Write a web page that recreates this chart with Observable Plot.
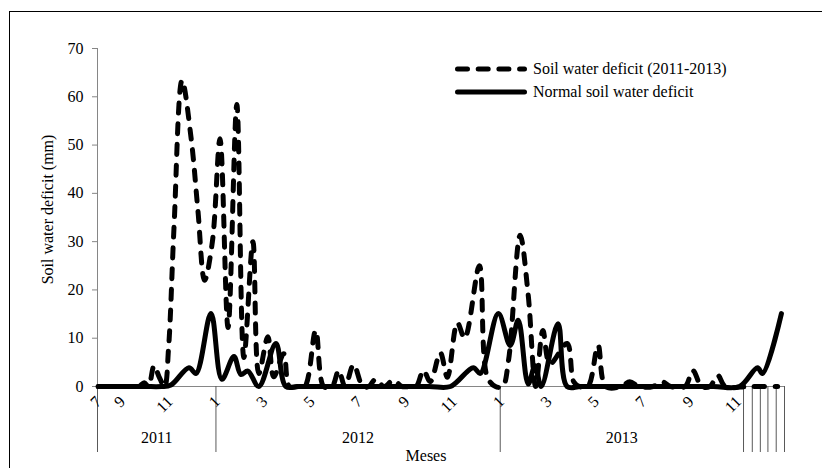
<!DOCTYPE html>
<html>
<head>
<meta charset="utf-8">
<script src="https://cdn.jsdelivr.net/npm/d3@7"></script>
<script src="https://cdn.jsdelivr.net/npm/@observablehq/plot@0.6"></script>
<style>
  html, body { margin: 0; padding: 0; background: #fff; overflow: hidden; }
  #wrap { position: relative; width: 822px; height: 468px; overflow: hidden;
          font-family: "Liberation Serif", "Times New Roman", serif; color: #000; }
  #border { position: absolute; left: 9px; top: 11px; width: 900px; height: 600px;
            border: 1.5px solid #000; box-sizing: border-box; }
  #chart { position: absolute; left: 0; top: 0; }
  #legend { position: absolute; left: 455px; top: 57.5px; font-size: 16px; }
  .row { display: flex; align-items: center; height: 23px; white-space: nowrap; }
  .row svg { margin-right: 6px; }
</style>
</head>
<body>
<div id="wrap">
  <div id="border"></div>
  <div id="chart"></div>
  <div id="legend"></div>
</div>
<script>
// ---- Data (months counted from Jan 2011 = 0; Jan 2012 = 12; Jan 2013 = 24) ----
const deficitMonths = [7.03, 7.5, 8.0, 8.5, 8.75, 8.97, 9.15, 9.39, 9.6, 9.83, 10.0, 10.23, 10.57, 10.95, 11.24, 11.52, 11.85, 12.17, 12.51, 12.88, 13.18, 13.56, 13.81, 14.19, 14.44, 14.86, 15.1, 15.45, 15.75, 16.21, 16.55, 16.9, 17.18, 17.45, 17.81, 18.2, 18.45, 18.74, 19.1, 19.49, 19.85, 20.2, 20.45, 20.76, 21.05, 21.47, 21.77, 22.19, 22.5, 23.12, 23.45, 23.8, 24.1, 24.35, 24.84, 25.18, 25.5, 25.8, 26.1, 26.82, 27.1, 27.35, 27.7, 28.13, 28.45, 29.1, 29.47, 29.85, 30.45, 30.82, 31.2, 31.8, 32.13, 32.5, 32.85, 33.18, 33.5, 34.5, 35.71];
const deficitValues = [0, 0, 0, 0, 0, 0.8, 0, 4.3, 2, 0, 8, 33, 63.4, 51.5, 36.4, 22, 30, 51.3, 12.2, 58.4, 6, 30, 2.7, 10.3, 2, 6.8, 0, 0, 0, 11.6, 0, 0, 3.3, 0, 4.5, 0, 0, 1.5, 0, 1.3, 0, 0, 0, 3.3, 1, 7, 1.9, 13.2, 10, 25, 2, 0, 0, 5.4, 31.3, 19, 0, 11.6, 4.7, 8.9, 1, 0, 0, 8.5, 0, 0, 1, 0, 0, 1, 0, 0, 3.3, 0, 0, 2.3, 0, 0, 0];

const normalMonths = [7.03, 8, 9, 9.7, 10.1, 10.86, 11.16, 11.79, 12.25, 12.76, 13.05, 13.35, 13.81, 14.53, 14.95, 15.5, 17, 19, 21, 21.9, 22.86, 23.16, 23.92, 24.42, 24.76, 25.18, 25.47, 25.73, 26.44, 26.82, 27.4, 29, 31, 33, 34.1, 34.86, 35.07, 35.87];
const normalValues = [0, 0, 0, 0, 0.3, 3.9, 2.7, 15.1, 1.5, 6.2, 2.5, 3.2, 0, 8.9, 0, 0, 0, 0, 0, 0, 3.9, 2.7, 15.1, 8.5, 13.7, 0.5, 4.3, 0, 13, 0, 0, 0, 0, 0, 0, 3.9, 2.7, 15.1];

const monthTickPositions = [7, 8, 10, 12, 14, 16, 18, 20, 22, 24, 26, 28, 30, 32, 34];
const monthTickLabels = ["7", "9", "11", "1", "3", "5", "7", "9", "11", "1", "3", "5", "7", "9", "11"];

const years = ["2011", "2012", "2013"];
const yearStart = [7, 12, 24];
const yearEnd = [12, 24, 34.27];
const separatorMonths = [7, 12, 24, 34.27, 34.64, 34.98, 35.3, 35.65, 36];

const yTicks = [0, 10, 20, 30, 40, 50, 60, 70];

const seriesNames = ["Soil water deficit (2011-2013)", "Normal soil water deficit"];

// ---- Build tables ----
const deficit = deficitMonths.map((m, i) => ({month: m, value: deficitValues[i]}));
const normal = normalMonths.map((m, i) => ({month: m, value: normalValues[i]}));

const chart = Plot.plot({
  width: 822,
  height: 468,
  marginTop: 48,
  marginBottom: 82,
  marginLeft: 97,
  marginRight: 38,
  style: {fontFamily: "'Liberation Serif', 'Times New Roman', serif", fontSize: "16px", background: "transparent", color: "#000"},
  x: {domain: [7, 36], axis: null},
  y: {domain: [0, 70], axis: null},
  marks: [
    Plot.ruleX([7], {stroke: "#868686"}),
    Plot.ruleY([0], {stroke: "#868686"}),
    Plot.axisY(yTicks, {anchor: "left", tickSize: 5, tickPadding: 9, stroke: "#868686", label: null, fontSize: 16}),
    Plot.axisX(separatorMonths, {anchor: "bottom", tickSize: 66, tickFormat: () => "", stroke: "#595959", label: null}),
    Plot.text(monthTickPositions, {x: d => d, text: (d, i) => monthTickLabels[i], frameAnchor: "bottom", rotate: -45, textAnchor: "end", dx: 5, dy: 16, fontSize: 16}),
    Plot.text(years, {x: (d, i) => (yearStart[i] + yearEnd[i]) / 2, text: d => d, frameAnchor: "bottom", dy: 56, fontSize: 16}),
    Plot.text(["Meses"], {text: d => d, frameAnchor: "bottom", textAnchor: "middle", dx: -15, dy: 74, fontSize: 16}),
    Plot.text(["Soil water deficit (mm)"], {text: d => d, frameAnchor: "left", textAnchor: "middle", rotate: -90, dx: -50, dy: -8, fontSize: 16}),
    Plot.line(deficit, {x: "month", y: "value", curve: "catmull-rom", stroke: "#000", strokeWidth: 5, strokeDasharray: "10,10.7", strokeLinecap: "round", strokeLinejoin: "round"}),
    Plot.line(normal, {x: "month", y: "value", curve: "catmull-rom", stroke: "#000", strokeWidth: 5, strokeLinecap: "round", strokeLinejoin: "round"})
  ]
});
document.getElementById("chart").appendChild(chart);

// ---- Legend ----
const legend = document.getElementById("legend");
const dashes = ["10,10.7", null];
seriesNames.forEach((name, i) => {
  const row = document.createElement("div");
  row.className = "row";
  const ns = "http://www.w3.org/2000/svg";
  const svg = document.createElementNS(ns, "svg");
  svg.setAttribute("width", "72");
  svg.setAttribute("height", "10");
  const ln = document.createElementNS(ns, "line");
  ln.setAttribute("x1", "2.5"); ln.setAttribute("x2", "69.5");
  ln.setAttribute("y1", "5"); ln.setAttribute("y2", "5");
  ln.setAttribute("stroke", "#000");
  ln.setAttribute("stroke-width", "5");
  ln.setAttribute("stroke-linecap", "round");
  if (dashes[i]) ln.setAttribute("stroke-dasharray", dashes[i]);
  svg.appendChild(ln);
  row.appendChild(svg);
  const span = document.createElement("span");
  span.textContent = name;
  row.appendChild(span);
  legend.appendChild(row);
});
</script>
</body>
</html>
